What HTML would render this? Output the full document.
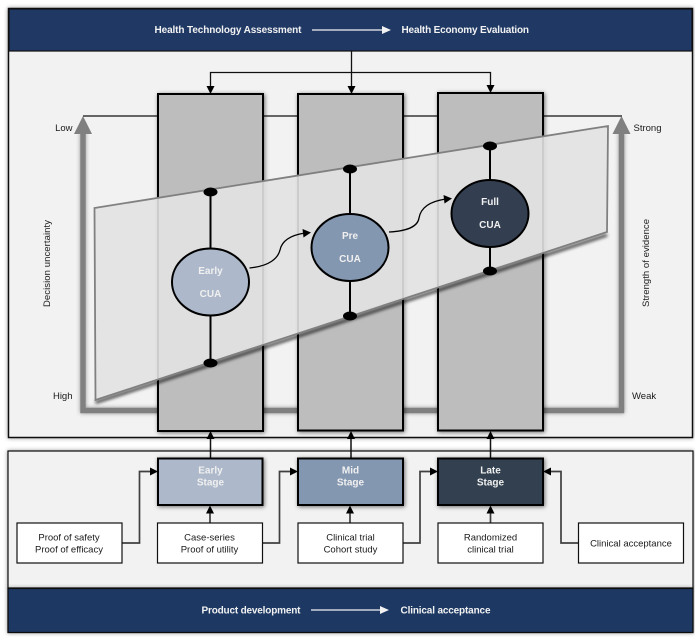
<!DOCTYPE html>
<html><head><meta charset="utf-8"><style>
html,body{margin:0;padding:0;background:#fff;width:695px;height:637px;overflow:hidden}
svg{display:block}
text{font-family:"Liberation Sans",sans-serif}
.h{font-size:10px;font-weight:bold;fill:#f2f2f2}
.l{font-size:9.5px;fill:#1a1a1a}
.b{font-size:9.5px;fill:#1a1a1a;text-anchor:middle}
.w{font-size:10px;font-weight:bold;fill:#f0f0f0;text-anchor:middle}
</style></head><body>
<svg width="695" height="637" viewBox="0 0 695 637" xmlns="http://www.w3.org/2000/svg">
<defs>
<filter id="s" x="-20%" y="-20%" width="140%" height="140%"><feDropShadow dx="1" dy="1" stdDeviation="2" flood-color="#000" flood-opacity=".55"/></filter>
<filter id="s2" x="-10%" y="-10%" width="120%" height="120%"><feDropShadow dx="0" dy="0" stdDeviation="2" flood-color="#000" flood-opacity=".4"/></filter>
<filter id="bl" x="-10%" y="-30%" width="120%" height="160%"><feGaussianBlur stdDeviation="1.500"/></filter>
</defs>

<!-- Top panel -->
<rect x="8.500" y="8.500" width="684" height="429" fill="#f2f2f2" stroke="#111" stroke-width="1.500" filter="url(#s2)"/>
<rect x="9" y="9" width="683" height="42" fill="#1f3864" stroke="#111" stroke-width="1.200"/>
<text class="h" x="154.500" y="33" textLength="147">Health Technology Assessment</text>
<line x1="312" y1="30" x2="384" y2="30" stroke="#f2f2f2" stroke-width="1.300"/>
<polygon points="382,26 391,30 382,34" fill="#f2f2f2"/>
<text class="h" x="401.500" y="33" textLength="127.500">Health Economy Evaluation</text>

<!-- Connectors top -->
<g stroke="#111" stroke-width="1.300" fill="none">
<path d="M351.500 51V88M210.500 88V72.500H490.500V88"/>
<path d="M83 116H158M263 116H298M403 116H438M543 116H622"/>
</g>
<g fill="#000">
<polygon points="206.500,86 214.500,86 210.500,94"/>
<polygon points="347.500,86 355.500,86 351.500,94"/>
<polygon points="486.500,85 494.500,85 490.500,93"/>
</g>

<!-- Grey axis -->
<path d="M83 132V410.500H621.500V132" fill="none" stroke="#808080" stroke-width="5.500" filter="url(#s2)"/>
<polygon points="83,116 74,134 92,134" fill="#808080"/>
<polygon points="621.500,116 612.500,134 630.500,134" fill="#808080"/>

<!-- Columns -->
<g fill="#bdbdbd" stroke="#000" stroke-width="2" filter="url(#s)">
<rect x="158" y="94" width="105" height="337"/>
<rect x="298" y="94" width="105" height="336.500"/>
<rect x="438" y="93" width="105" height="337.500"/>
</g>

<!-- Band -->
<path d="M95.500 402.500L607 235" fill="none" stroke="#000" stroke-opacity=".75" stroke-width="3" filter="url(#bl)"/>
<polygon points="94.500,208 608,126 607,232 95.500,400" fill="#e2e2e2" fill-opacity=".9" stroke="#808080" stroke-width="1.800"/>

<!-- Vertical dot lines -->
<g stroke="#000" stroke-width="2">
<line x1="210.500" y1="192" x2="210.500" y2="363"/>
<line x1="350" y1="169" x2="350" y2="316"/>
<line x1="490" y1="146" x2="490" y2="271"/>
</g>
<g fill="#000">
<ellipse cx="210.500" cy="192" rx="7" ry="4.500"/>
<ellipse cx="350" cy="169" rx="7" ry="4.500"/>
<ellipse cx="490" cy="146" rx="7" ry="4.500"/>
<ellipse cx="210.500" cy="363" rx="7" ry="4.500"/>
<ellipse cx="350" cy="316" rx="7" ry="4.500"/>
<ellipse cx="490" cy="271" rx="7" ry="4.500"/>
</g>

<!-- Circles -->
<g stroke="#000" stroke-width="2">
<ellipse cx="210.500" cy="282" rx="38.500" ry="33.500" fill="#adb9ca"/>
<ellipse cx="350" cy="247.500" rx="38.500" ry="33.500" fill="#8497b0"/>
<ellipse cx="490" cy="213.500" rx="38.500" ry="33.500" fill="#333f50"/>
</g>
<text class="w" x="210.500" y="274">Early</text>
<text class="w" x="210.500" y="297">CUA</text>
<text class="w" x="350" y="239">Pre</text>
<text class="w" x="350" y="262">CUA</text>
<text class="w" x="490" y="205">Full</text>
<text class="w" x="490" y="228">CUA</text>

<!-- Curved arrows -->
<g fill="none" stroke="#000" stroke-width="1.300">
<path d="M249.500 268C270 266 278 258 280 250C282 240 292 235 305 233"/>
<path d="M389 232C410 231 418 225 419 218C421 206 432 201 446 199"/>
</g>
<polygon points="302.500,229 311,232.500 303.500,237.500" fill="#000"/>
<polygon points="443.500,195 452,198.500 444.500,203.500" fill="#000"/>

<!-- Axis labels -->
<text class="l" x="72.500" y="131" text-anchor="end">Low</text>
<text class="l" x="72.500" y="399" text-anchor="end">High</text>
<text class="l" x="633.500" y="131">Strong</text>
<text class="l" x="632" y="399">Weak</text>
<text class="l" transform="translate(50,307) rotate(-90)" textLength="87">Decision uncertainty</text>
<text class="l" transform="translate(649,307) rotate(-90)" textLength="88">Strength of evidence</text>

<!-- Bottom panel -->
<rect x="8" y="451" width="685" height="137" fill="#f2f2f2" stroke="#111" stroke-width="1.200" filter="url(#s2)"/>
<rect x="8" y="588.500" width="685" height="44" fill="#1f3864" stroke="#111" stroke-width="1.300" filter="url(#s2)"/>
<text class="h" x="201.500" y="613.500" textLength="99">Product development</text>
<line x1="311" y1="610" x2="382" y2="610" stroke="#f2f2f2" stroke-width="1.300"/>
<polygon points="380,606 389,610 380,614" fill="#f2f2f2"/>
<text class="h" x="400.500" y="613.500" textLength="90">Clinical acceptance</text>

<!-- Arrows from stages to columns -->
<g stroke="#111" stroke-width="1.500" fill="none">
<path d="M210.500 458V437M351 458V437M490.500 458V437"/>
</g>
<g fill="#000">
<polygon points="206.500,439 214.500,439 210.500,431"/>
<polygon points="347,439 355,439 351,431"/>
<polygon points="486.500,439 494.500,439 490.500,431"/>
</g>

<!-- Stages -->
<g stroke="#000" stroke-width="2" filter="url(#s)">
<rect x="158" y="458.500" width="104.500" height="46.500" fill="#adb9ca"/>
<rect x="298" y="458.500" width="105" height="46.500" fill="#8497b0"/>
<rect x="438" y="458.500" width="105" height="46.500" fill="#333f50"/>
</g>
<text class="w" x="210.500" y="473.500">Early</text>
<text class="w" x="210.500" y="485.500">Stage</text>
<text class="w" x="350.500" y="473.500">Mid</text>
<text class="w" x="350.500" y="485.500">Stage</text>
<text class="w" x="490.500" y="473.500">Late</text>
<text class="w" x="490.500" y="485.500">Stage</text>

<!-- Lower connectors -->
<g stroke="#404040" stroke-width="1.700" fill="none">
<path d="M122 543H139.500V471.500H152"/>
<path d="M262 543H279.500V471.500H292"/>
<path d="M403 543H420V471.500H432"/>
<path d="M579 543H561V471.500H550"/>
<path d="M210 523V511M350 523V511M490.500 523V511"/>
</g>
<g fill="#000">
<polygon points="150,467.500 158,471.500 150,475.500"/>
<polygon points="290,467.500 298,471.500 290,475.500"/>
<polygon points="430,467.500 438,471.500 430,475.500"/>
<polygon points="551,467.500 543,471.500 551,475.500"/>
<polygon points="206,513.500 214,513.500 210,505.500"/>
<polygon points="346,513.500 354,513.500 350,505.500"/>
<polygon points="486.500,513.500 494.500,513.500 490.500,505.500"/>
</g>

<!-- Evidence boxes -->
<g fill="#fff" stroke="#111" stroke-width="1.200">
<rect x="17" y="523" width="105" height="40"/>
<rect x="157.500" y="523" width="105" height="40"/>
<rect x="298" y="523" width="105" height="40"/>
<rect x="438" y="523" width="105" height="40"/>
<rect x="578.500" y="523" width="105" height="40"/>
</g>
<text class="b" x="69" y="540.500">Proof of safety</text>
<text class="b" x="69" y="552.500">Proof of efficacy</text>
<text class="b" x="209.500" y="540.500">Case-series</text>
<text class="b" x="209.500" y="552.500">Proof of utility</text>
<text class="b" x="350.500" y="540.500">Clinical trial</text>
<text class="b" x="350.500" y="552.500">Cohort study</text>
<text class="b" x="490.500" y="540.500">Randomized</text>
<text class="b" x="490.500" y="552.500">clinical trial</text>
<text class="b" x="631" y="546.500">Clinical acceptance</text>
</svg>
</body></html>
